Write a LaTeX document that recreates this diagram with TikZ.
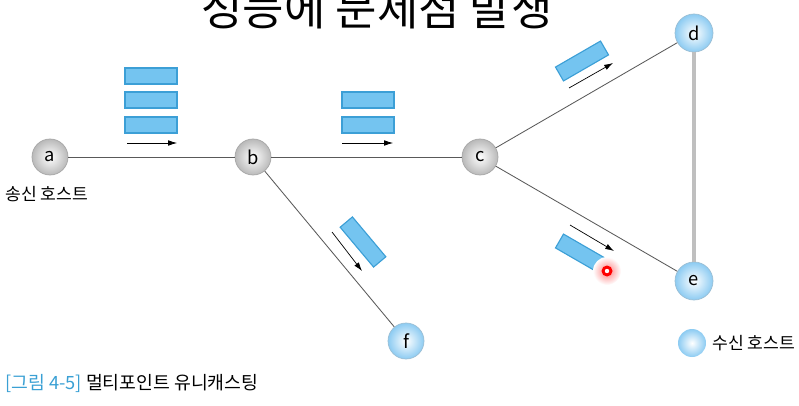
\documentclass[tikz,border=0pt]{standalone}
\usepackage{fontspec}
\setmainfont{Noto Sans CJK KR}
\usetikzlibrary{arrows.meta}

\definecolor{pktfill}{HTML}{74C4F0}
\definecolor{pktline}{HTML}{3C9FD6}
\definecolor{hostblue}{HTML}{8CCBF2}
\definecolor{capblue}{HTML}{3AA0D4}

\begin{document}
\begin{tikzpicture}[
        x=0.025cm, y=0.025cm,
        router/.style={circle, minimum size=36*0.025cm, inner sep=0pt, draw=gray!70, line width=0.5pt,
            shading=radial, inner color=white, outer color=gray!55, font=\fontsize{13}{13}\selectfont},
        host/.style={router, draw=hostblue!80!black!70, outer color=hostblue},
        pkt/.style={draw=pktline, fill=pktfill, line width=0.8pt, minimum width=52*0.025cm, minimum height=16*0.025cm, inner sep=0pt},
        link/.style={draw=black!65, line width=0.6pt},
        flow/.style={-{Latex[length=2.2mm, width=1.4mm]}, line width=0.5pt},
        lbl/.style={font=\fontsize{12.2}{13}\selectfont, inner sep=0pt}
    ]
        \useasboundingbox (0,0) rectangle (799,-406);

        % title (cut at the top edge)
        \node[anchor=base, font=\fontsize{32}{32}\selectfont, inner sep=0pt] (title) at (377,-26) {성능에 문제점 발생};

        % hosts and routers
        \node[router] (a) at (50,-157) {a};
        \node[router] (b) at (253,-157) {b};
        \node[router] (c) at (480,-157) {c};
        \node[host, minimum size=38*0.025cm] (d) at (694,-33) {d};
        \node[host, minimum size=38*0.025cm] (e) at (694,-281) {e};
        \node[host] (f) at (406,-341) {f};

        \draw[link] (a) -- (b);
        \draw[link] (b) -- (c);
        \draw[link] (c) -- (d);
        \draw[link] (c) -- (e);
        \draw[link] (b) -- (f);
        \draw[gray!50, line width=2.2pt] (d) -- (e);

        % packets
        \node[pkt] (p1) at (151,-76) {};
        \node[pkt] (p2) at (151,-100) {};
        \node[pkt] (p3) at (151,-125) {};
        \draw[flow] (127,-143) -- (177,-143);

        \node[pkt] (p4) at (368,-100) {};
        \node[pkt] (p5) at (368,-125) {};
        \draw[flow] (342,-143) -- (393,-143);

        \node[pkt, rotate=30] (p6) at (582,-61) {};
        \draw[flow] (569,-88) -- (613,-63);

        \node[pkt, rotate=-30] (p7) at (582,-254) {};
        \draw[flow] (570,-225) -- (614,-251);

        \node[pkt, rotate=-50] (p8) at (363,-242) {};
        \draw[flow] (332,-232) -- (362,-271);

        % lost packet mark
        \shade[inner color=red!50, outer color=white] (607,-271) circle (14);
        \fill[red] (607,-271) circle (5.5);
        \fill[white] (607,-271) circle (2.2);

        % labels
        \node[lbl, anchor=west] (send) at (5,-194) {송신 호스트};
        \node[host, minimum size=28*0.025cm, draw=none] (leg) at (692,-343) {};
        \node[lbl, anchor=west] (recv) at (712,-343) {수신 호스트};

        \node[anchor=base west, inner sep=0pt, font=\fontsize{13}{13}\selectfont] (cap) at (5,-389)
            {\textcolor{capblue}{[그림 4-5]} 멀티포인트 유니캐스팅};
    \end{tikzpicture}
\end{document}
